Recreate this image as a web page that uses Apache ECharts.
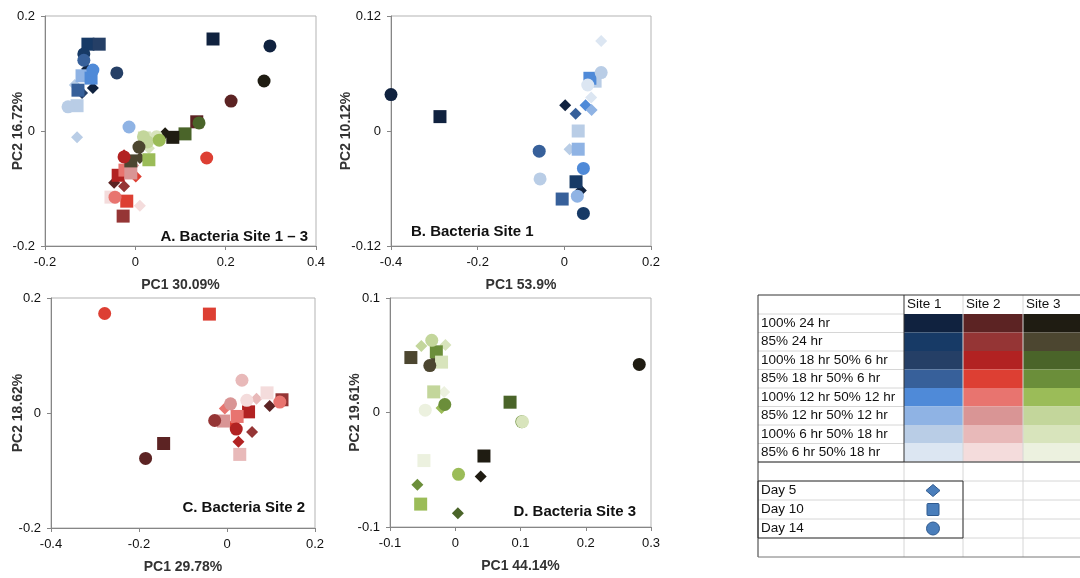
<!DOCTYPE html>
<html>
<head>
<meta charset="utf-8">
<script src="https://cdn.jsdelivr.net/npm/echarts@6/dist/echarts.min.js"></script>
<style>
html, body { margin: 0; padding: 0; background: #fff; }
#main { width: 1080px; height: 578px; }
</style>
</head>
<body>
<div id="main"></div>
<script>
// colour per treatment, one list per site
var site1Colors = ['#10223f', '#173a66', '#253f66', '#37609a', '#4f8ad8', '#8fb3e4', '#b9cde6', '#dce6f2'];
var site2Colors = ['#5c2323', '#953535', '#b22222', '#dd3f33', '#e8746f', '#d99595', '#e8b9b9', '#f4dcdc'];
var site3Colors = ['#1f1c12', '#4c4630', '#4a6429', '#6b8e3a', '#9bbc58', '#c3d69b', '#d8e4bc', '#ecf1df'];
var siteColors = [site1Colors, site2Colors, site3Colors];
var siteNames = ['Site 1', 'Site 2', 'Site 3'];
var treatments = ['100% 24 hr', '85% 24 hr', '100% 18 hr 50% 6 hr', '85% 18 hr 50% 6 hr',
    '100% 12 hr 50% 12 hr', '85% 12 hr 50% 12 hr', '100% 6 hr 50% 18 hr', '85% 6 hr 50% 18 hr'];
var days = ['Day 5', 'Day 10', 'Day 14'];
var daySymbols = ['diamond', 'rect', 'circle'];

// points: [PC1, PC2, site index, treatment index]
// A. all sites
var aDay5 = [[-0.107, 0.108, 0, 0], [-0.094, 0.075, 0, 0], [-0.134, 0.080, 0, 6], [-0.118, 0.066, 0, 2],
    [-0.125, 0.072, 0, 4], [-0.129, -0.011, 0, 6],
    [-0.025, -0.042, 1, 2], [-0.047, -0.090, 1, 0], [-0.025, -0.096, 1, 1], [0.001, -0.079, 1, 3],
    [0.010, -0.130, 1, 7], [-0.005, -0.060, 1, 5],
    [0.066, -0.004, 2, 0], [0.010, -0.047, 2, 1], [0.030, -0.030, 2, 6]];
var aDay10 = [[-0.105, 0.151, 0, 1], [-0.080, 0.151, 0, 2], [0.172, 0.160, 0, 0], [-0.118, 0.096, 0, 5],
    [-0.098, 0.092, 0, 4], [-0.127, 0.071, 0, 3], [-0.129, 0.044, 0, 6],
    [0.136, 0.016, 1, 0], [-0.038, -0.077, 1, 2], [-0.023, -0.068, 1, 4], [-0.010, -0.073, 1, 5],
    [-0.054, -0.115, 1, 7], [-0.019, -0.122, 1, 3], [-0.027, -0.148, 1, 1],
    [0.110, -0.005, 2, 2], [0.083, -0.011, 2, 0], [0.020, -0.012, 2, 6], [-0.010, -0.052, 2, 1], [0.030, -0.050, 2, 4]];
var aDay14 = [[0.298, 0.148, 0, 0], [-0.041, 0.101, 0, 2], [-0.114, 0.134, 0, 1], [-0.114, 0.123, 0, 3],
    [-0.094, 0.106, 0, 4], [-0.149, 0.042, 0, 6], [-0.014, 0.007, 0, 5],
    [0.212, 0.052, 1, 0], [0.158, -0.047, 1, 3], [-0.025, -0.045, 1, 2], [-0.045, -0.115, 1, 4],
    [0.285, 0.087, 2, 0], [0.141, 0.014, 2, 2], [0.047, -0.010, 2, 6], [0.018, -0.010, 2, 5],
    [0.027, -0.019, 2, 5], [0.053, -0.016, 2, 4], [0.008, -0.028, 2, 1]];

// B. site 1
var bDay5 = [[0.085, 0.094, 0, 7], [0.062, 0.035, 0, 7], [0.002, 0.027, 0, 0], [0.026, 0.018, 0, 3],
    [0.049, 0.027, 0, 4], [0.063, 0.022, 0, 5], [0.012, -0.019, 0, 6], [0.038, -0.062, 0, 0]];
var bDay10 = [[-0.287, 0.015, 0, 0], [0.071, 0.052, 0, 6], [0.059, 0.055, 0, 4], [0.032, 0.000, 0, 6],
    [0.032, -0.019, 0, 5], [0.027, -0.053, 0, 1], [-0.005, -0.071, 0, 3]];
var bDay14 = [[-0.400, 0.038, 0, 0], [0.085, 0.061, 0, 6], [0.054, 0.048, 0, 7], [-0.058, -0.021, 0, 3],
    [0.044, -0.039, 0, 4], [-0.056, -0.050, 0, 6], [0.030, -0.068, 0, 5], [0.044, -0.086, 0, 1]];

// C. site 2
var cDay5 = [[0.067, 0.025, 1, 6], [0.097, 0.012, 1, 0], [-0.005, 0.008, 1, 4], [0.015, -0.019, 1, 3],
    [0.057, -0.033, 1, 1], [0.026, -0.050, 1, 2]];
var cDay10 = [[-0.040, 0.172, 1, 3], [0.091, 0.035, 1, 7], [0.125, 0.023, 1, 1], [0.049, 0.002, 1, 2],
    [0.023, -0.006, 1, 4], [-0.008, -0.014, 1, 5], [0.029, -0.072, 1, 6], [-0.144, -0.053, 1, 0]];
var cDay14 = [[-0.278, 0.173, 1, 3], [0.034, 0.057, 1, 6], [0.120, 0.019, 1, 4], [0.045, 0.022, 1, 7],
    [0.008, 0.016, 1, 5], [-0.028, -0.013, 1, 1], [0.021, -0.028, 1, 2], [-0.185, -0.079, 1, 0]];

// D. site 3
var dDay5 = [[-0.052, 0.058, 2, 5], [-0.015, 0.059, 2, 6], [-0.017, 0.018, 2, 7], [-0.021, 0.004, 2, 4],
    [0.039, -0.056, 2, 0], [-0.058, -0.063, 2, 3], [0.004, -0.088, 2, 2]];
var dDay10 = [[-0.068, 0.048, 2, 1], [-0.029, 0.053, 2, 3], [-0.021, 0.044, 2, 6], [-0.033, 0.018, 2, 5],
    [0.084, 0.009, 2, 2], [0.044, -0.038, 2, 0], [-0.048, -0.042, 2, 7], [-0.053, -0.080, 2, 4]];
var dDay14 = [[0.282, 0.042, 2, 0], [-0.036, 0.063, 2, 5], [-0.039, 0.041, 2, 1], [-0.016, 0.007, 2, 3],
    [-0.046, 0.002, 2, 7], [0.102, -0.008, 2, 3], [0.103, -0.008, 2, 6], [0.005, -0.054, 2, 4]];
var dDay5b = [[-0.029, 0.047, 2, 1]];

var panelData = [[aDay5, aDay10, aDay14], [bDay5, bDay10, bDay14], [cDay5, cDay10, cDay14], [dDay5.concat(dDay5b), dDay10, dDay14]];
var panelTitles = ['A. Bacteria Site 1 \u2013 3', 'B. Bacteria Site 1', 'C. Bacteria Site 2', 'D. Bacteria Site 3'];
var xNames = ['PC1 30.09%', 'PC1 53.9%', 'PC1 29.78%', 'PC1 44.14%'];
var yNames = ['PC2 16.72%', 'PC2 10.12%', 'PC2 18.62%', 'PC2 19.61%'];
var xRanges = [[-0.2, 0.4, 0.2], [-0.4, 0.2, 0.2], [-0.4, 0.2, 0.2], [-0.1, 0.3, 0.1]];
var yRanges = [[-0.2, 0.2, 0.2], [-0.12, 0.12, 0.12], [-0.2, 0.2, 0.2], [-0.1, 0.1, 0.1]];

var font = 'Liberation Sans, Arial, sans-serif';
var grids = [
    { left: 45, top: 16, width: 271, height: 230 },
    { left: 391, top: 16, width: 260, height: 230 },
    { left: 51, top: 298, width: 264, height: 230 },
    { left: 390, top: 298, width: 261, height: 229 }
];
var yNameGaps = [20, 38, 26, 28];

function fmt(v) { return String(parseFloat(v.toFixed(2))); }

var xAxes = [], yAxes = [], series = [], titles = [];
for (var p = 0; p < 4; p++) {
    grids[p].show = true;
    grids[p].borderColor = '#b3b3b3';
    grids[p].borderWidth = 1;
    grids[p].containLabel = false;
    grids[p].outerBoundsMode = 'none';
    xAxes.push({
        type: 'value', gridIndex: p, min: xRanges[p][0], max: xRanges[p][1], interval: xRanges[p][2],
        name: xNames[p], nameLocation: 'middle', nameGap: 32, nameMoveOverlap: false,
        nameTextStyle: { fontFamily: font, fontWeight: 'bold', fontSize: 14, color: '#333' },
        axisLine: { onZero: false, lineStyle: { color: '#868686' } },
        axisTick: { show: true, length: 4, lineStyle: { color: '#868686' } },
        axisLabel: { fontFamily: font, fontSize: 13, color: '#111', margin: 10, formatter: fmt },
        splitLine: { show: false }
    });
    yAxes.push({
        type: 'value', gridIndex: p, min: yRanges[p][0], max: yRanges[p][1], interval: yRanges[p][2],
        name: yNames[p], nameLocation: 'middle', nameGap: yNameGaps[p], nameMoveOverlap: false,
        nameTextStyle: { fontFamily: font, fontWeight: 'bold', fontSize: 14, color: '#333' },
        axisLine: { onZero: false, lineStyle: { color: '#868686' } },
        axisTick: { show: true, length: 4, lineStyle: { color: '#868686' } },
        axisLabel: { fontFamily: font, fontSize: 13, color: '#111', margin: 10, formatter: fmt },
        splitLine: { show: false }
    });
    for (var d = 0; d < 3; d++) {
        series.push({
            type: 'scatter', name: days[d], xAxisIndex: p, yAxisIndex: p,
            symbol: daySymbols[d], symbolSize: d === 0 ? 12 : 13,
            data: panelData[p][d],
            itemStyle: { opacity: 1, color: function (params) { return siteColors[params.data[2]][params.data[3]]; } },
            emphasis: { disabled: true }
        });
    }
}
var titleStyle = { fontFamily: font, fontWeight: 'bold', fontSize: 15, color: '#111' };
titles.push({ text: panelTitles[0], right: 772, top: 229, padding: 0, textStyle: titleStyle });
titles.push({ text: panelTitles[1], left: 411, top: 224, padding: 0, textStyle: titleStyle });
titles.push({ text: panelTitles[2], right: 775, top: 500, padding: 0, textStyle: titleStyle });
titles.push({ text: panelTitles[3], right: 444, top: 504, padding: 0, textStyle: titleStyle });

// legend table
var tX = [758, 904, 963, 1023, 1083];
var tTop = 295, headH = 19, rowH = 18.5;
var blockBottom = tTop + headH + rowH * 8;
var dayTop = blockBottom + 19;
var tBottom = dayTop + 19 * 3 + 19;
var g = [];
var light = '#d6d6d6', dark = '#333';
function line(x1, y1, x2, y2, c, w) {
    g.push({ type: 'line', shape: { x1: x1, y1: y1, x2: x2, y2: y2 }, style: { stroke: c, lineWidth: w || 1 }, z: 10 });
}
function text(x, y, s) {
    g.push({ type: 'text', x: x, y: y, style: { text: s, font: '13.5px ' + font, fill: '#111', textVerticalAlign: 'middle' }, z: 12 });
}
// colour cells
for (var s = 0; s < 3; s++) {
    for (var t = 0; t < 8; t++) {
        g.push({ type: 'rect', shape: { x: tX[s + 1], y: tTop + headH + t * rowH, width: tX[s + 2] - tX[s + 1], height: rowH },
            style: { fill: siteColors[s][t] }, z: 5 });
    }
    text(tX[s + 1] + 3, tTop + headH / 2, siteNames[s]);
}
// light grid lines
for (var t = 0; t <= 8; t++) line(tX[0], tTop + headH + t * rowH, tX[1], tTop + headH + t * rowH, light);
for (var r = 0; r <= 4; r++) line(tX[0], dayTop + r * 19 - 19, tX[4], dayTop + r * 19 - 19, light);
for (var c = 2; c < 4; c++) line(tX[c], tTop, tX[c], tBottom, light);
line(tX[1], blockBottom, tX[1], tBottom, light);
// dark borders
line(tX[0], tTop, tX[4], tTop, dark);
line(tX[0], tTop, tX[0], tBottom, dark);
line(tX[0], blockBottom, tX[4], blockBottom, dark);
line(tX[1], tTop, tX[1], blockBottom, dark);
line(tX[0], tBottom, tX[4], tBottom, '#777');
g.push({ type: 'rect', shape: { x: tX[0], y: dayTop, width: tX[2] - tX[0], height: 57 }, style: { fill: 'none', stroke: dark, lineWidth: 1 }, z: 11 });
for (var t = 0; t < 8; t++) text(tX[0] + 3, tTop + headH + t * rowH + rowH / 2, treatments[t]);
// day symbols
var symX = 933;
for (var d = 0; d < 3; d++) {
    var cy = dayTop + d * 19 + 9.5;
    text(tX[0] + 3, cy, days[d]);
    var st = { fill: '#4a7ebb', stroke: '#2f5a8f', lineWidth: 1 };
    if (d === 0) g.push({ type: 'polygon', shape: { points: [[symX, cy - 6], [symX + 7, cy], [symX, cy + 6], [symX - 7, cy]] }, style: st, z: 12 });
    if (d === 1) g.push({ type: 'rect', shape: { x: symX - 6, y: cy - 6, width: 12, height: 12, r: 1 }, style: st, z: 12 });
    if (d === 2) g.push({ type: 'circle', shape: { cx: symX, cy: cy, r: 6.5 }, style: st, z: 12 });
}

var myChart = echarts.init(document.getElementById('main'));
var option = {
    backgroundColor: '#fff',
    animation: false,
    title: titles,
    grid: grids,
    xAxis: xAxes,
    yAxis: yAxes,
    series: series,
    graphic: g
};
myChart.setOption(option);
</script>
</body>
</html>
